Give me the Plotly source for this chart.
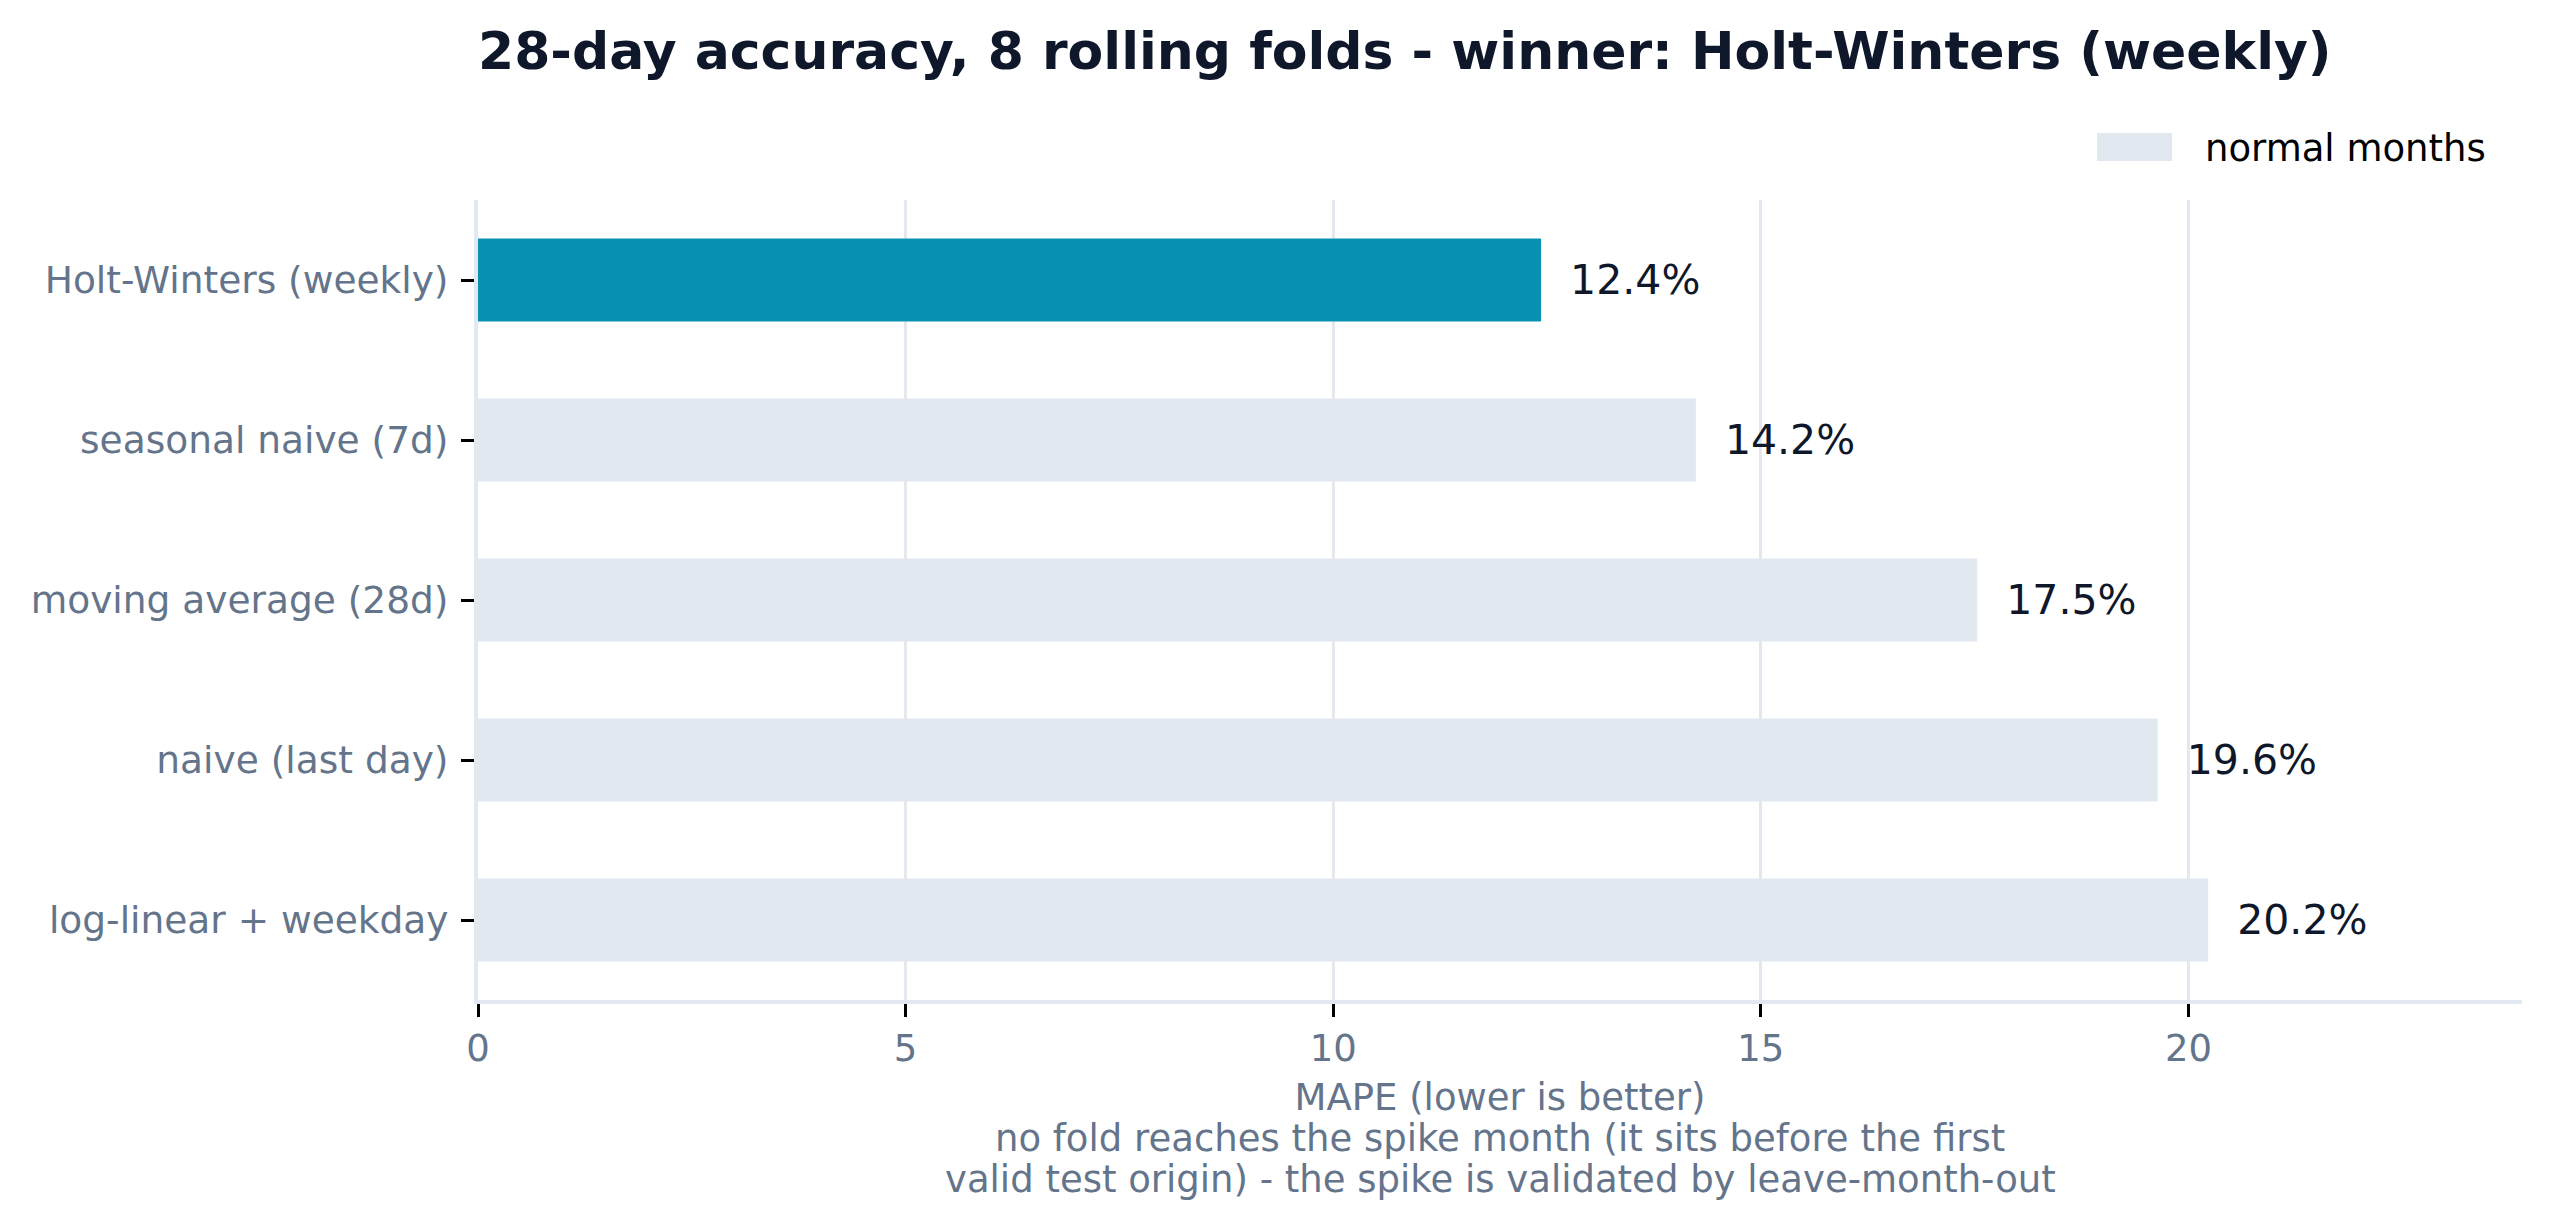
import plotly.graph_objects as go

# models, top to bottom, with 28-day MAPE (%) over 8 rolling folds
models = [
    "Holt-Winters (weekly)",
    "seasonal naive (7d)",
    "moving average (28d)",
    "naive (last day)",
    "log-linear + weekday",
]
mape = [12.43, 14.24, 17.53, 19.64, 20.23]
winner = "Holt-Winters (weekly)"
x_ticks = [0, 5, 10, 15, 20]
x_title = "MAPE (lower is better)"
note_lines = [
    "no fold reaches the spike month (it sits before the first",
    "valid test origin) - the spike is validated by leave-month-out",
]

TEAL = "#0891b2"
GREY = "#e2e8f0"
SLATE = "#64748b"
INK = "#0f172a"
FONT = "DejaVu Sans"

colors = [TEAL if m == winner else GREY for m in models]

fig = go.Figure()
fig.add_trace(go.Bar(
    x=mape,
    y=models,
    orientation="h",
    name="normal months",
    marker=dict(color=colors, line=dict(width=0)),
    width=0.52,
    text=["\u00a0\u00a0%.1f%%" % v for v in mape],
    textposition="outside",
    textfont=dict(family=FONT, size=41, color=INK),
    constraintext="none",
    cliponaxis=False,
    showlegend=False,
))

# legend key drawn by hand so the swatch can be wide like the original
fig.add_shape(type="rect", xref="paper", yref="paper",
              x0=0.7921, x1=0.8288, y0=1.04875, y1=1.08375,
              fillcolor=GREY, line=dict(width=0), layer="above")
fig.add_annotation(text="normal months", xref="paper", yref="paper",
                   x=0.8439, y=1.064, xanchor="left", yanchor="middle",
                   showarrow=False, font=dict(family=FONT, size=37, color="#000000"))

# the two note lines under the axis title (tighter line spacing than <br>)
for line, yy in zip(note_lines, [-0.1735, -0.2240]):
    fig.add_annotation(text=line, xref="paper", yref="paper",
                       x=0.5, y=yy, xanchor="center", yanchor="middle",
                       showarrow=False, font=dict(family=FONT, size=37, color=SLATE))

fig.update_layout(
    width=2550,
    height=1230,
    paper_bgcolor="white",
    plot_bgcolor="white",
    font=dict(family=FONT, size=37, color=SLATE),
    title=dict(
        text="<b>28-day accuracy, 8 rolling folds - winner: Holt-Winters (weekly)</b>",
        font=dict(family=FONT, size=52, color=INK),
        xref="paper", x=0, xanchor="left",
        yref="container", y=1 - 51 / 1230, yanchor="middle",
    ),
    margin=dict(l=478, r=28, t=200, b=230, pad=0),
    bargap=0.48,
)

fig.update_xaxes(
    range=[0, 23.9],
    tickvals=x_ticks,
    ticks="outside", ticklen=13, tickwidth=3, tickcolor="black",
    tickfont=dict(family=FONT, size=37, color=SLATE),
    showgrid=True, gridcolor=GREY, gridwidth=3,
    zeroline=False,
    showline=True, linecolor=GREY, linewidth=4,
    title=dict(text=x_title, font=dict(family=FONT, size=37, color=SLATE), standoff=16),
)
fig.update_yaxes(
    autorange="reversed",
    ticks="outside", ticklen=13, tickwidth=3, tickcolor="black",
    tickfont=dict(family=FONT, size=37.5, color=SLATE),
    ticklabelstandoff=5,
    showgrid=False,
    zeroline=False,
    showline=True, linecolor=GREY, linewidth=4,
)

fig.write_html("out.html", config={"displayModeBar": False},
               post_script="document.body.style.margin='0px';")
